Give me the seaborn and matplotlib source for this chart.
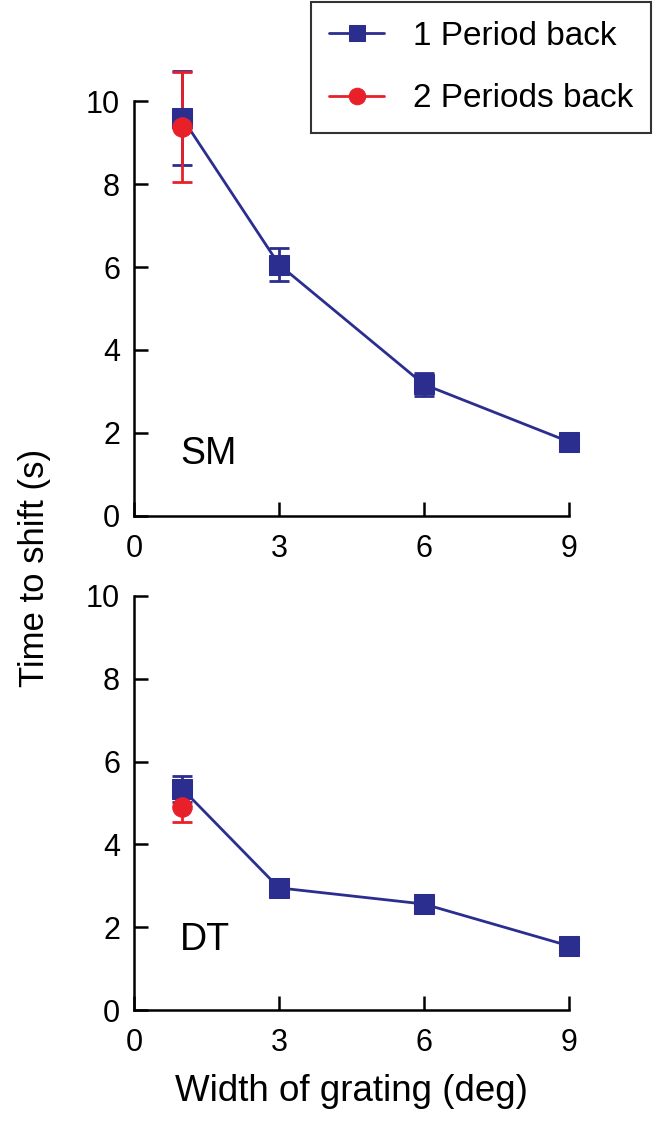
import pandas as pd
import seaborn as sns
import matplotlib.pyplot as plt

# Data
widths = [1, 3, 6, 9]
sm_one = [9.59, 6.06, 3.17, 1.79]
sm_one_err = [1.13, 0.39, 0.27, 0.10]
sm_two = [9.38]
sm_two_err = [1.33]
dt_one = [5.34, 2.95, 2.56, 1.55]
dt_one_err = [0.32, 0.10, 0.10, 0.10]
dt_two = [4.91]
dt_two_err = [0.37]

panels = ["SM", "DT"]
xticks = [0, 3, 6, 9]
yticks = [0, 2, 4, 6, 8, 10]

BLUE = "#2b2e8f"
RED = "#e8202a"

sns.set_style("ticks")
plt.rcParams["font.family"] = ["Liberation Sans", "DejaVu Sans"]
plt.rcParams["text.color"] = "black"

fig = plt.figure(figsize=(6.7, 11.29), dpi=100)
ax_top = fig.add_axes([0.2, 0.543, 0.649, 0.3675])
ax_bot = fig.add_axes([0.2, 0.1054, 0.649, 0.3667])

series = [
    (ax_top, "SM", sm_one, sm_one_err, sm_two, sm_two_err),
    (ax_bot, "DT", dt_one, dt_one_err, dt_two, dt_two_err),
]

for ax, name, one, one_err, two, two_err in series:
    df_one = pd.DataFrame({"width": widths, "time": one})
    df_two = pd.DataFrame({"width": widths[:1], "time": two})

    # error bars first so the markers sit on top
    eb1 = ax.errorbar(widths, one, yerr=one_err, fmt="none", ecolor=BLUE,
                      elinewidth=2, capsize=7, capthick=2, zorder=2)
    eb2 = ax.errorbar(widths[:1], two, yerr=two_err, fmt="none", ecolor=RED,
                      elinewidth=2, capsize=7, capthick=2, zorder=3)
    for eb in (eb1, eb2):
        for art in eb.lines[1] + eb.lines[2]:
            art.set_clip_on(False)

    sns.lineplot(data=df_one, x="width", y="time", ax=ax, color=BLUE,
                 marker="s", markersize=14, markeredgecolor=BLUE,
                 linewidth=2, label="1 Period back", zorder=4, clip_on=False)
    sns.lineplot(data=df_two, x="width", y="time", ax=ax, color=RED,
                 marker="o", markersize=14, markeredgecolor=RED,
                 linewidth=2, label="2 Periods back", zorder=5, clip_on=False)

    ax.set_xlim(0, 9)
    ax.set_ylim(0, 10)
    ax.set_xticks(xticks)
    ax.set_yticks(yticks)
    ax.set_xlabel("")
    ax.set_ylabel("")
    ax.tick_params(direction="in", length=10, width=1.8, labelsize=22,
                   colors="black")
    ax.tick_params(axis="x", pad=13)
    ax.tick_params(axis="y", pad=10)
    sns.despine(ax=ax)
    for s in ["left", "bottom"]:
        ax.spines[s].set_linewidth(1.8)
        ax.spines[s].set_color("black")
    ax.text(0.95, 1.5 if name == "SM" else 1.7, name, fontsize=27,
            va="center", ha="left", color="black")
    ax.get_legend().remove()

handles, labels = ax_top.get_legend_handles_labels()
leg = fig.legend(handles, labels, loc="upper right",
                 bbox_to_anchor=(0.972, 0.998), fontsize=24,
                 frameon=True, fancybox=False, handlelength=1.65,
                 markerscale=0.85, borderpad=0.55, labelspacing=0.95,
                 handletextpad=0.85, borderaxespad=0)
leg.get_frame().set_edgecolor("black")
leg.get_frame().set_linewidth(1.5)
for t in leg.get_texts():
    t.set_color("black")

fig.text(0.052, 0.497, "Time to shift (s)", rotation=90, fontsize=25,
         ha="center", va="center", color="black")
fig.text(0.524, 0.033, "Width of grating (deg)", fontsize=26.5,
         ha="center", va="center", color="black")

fig.savefig("out.png", dpi=100)
